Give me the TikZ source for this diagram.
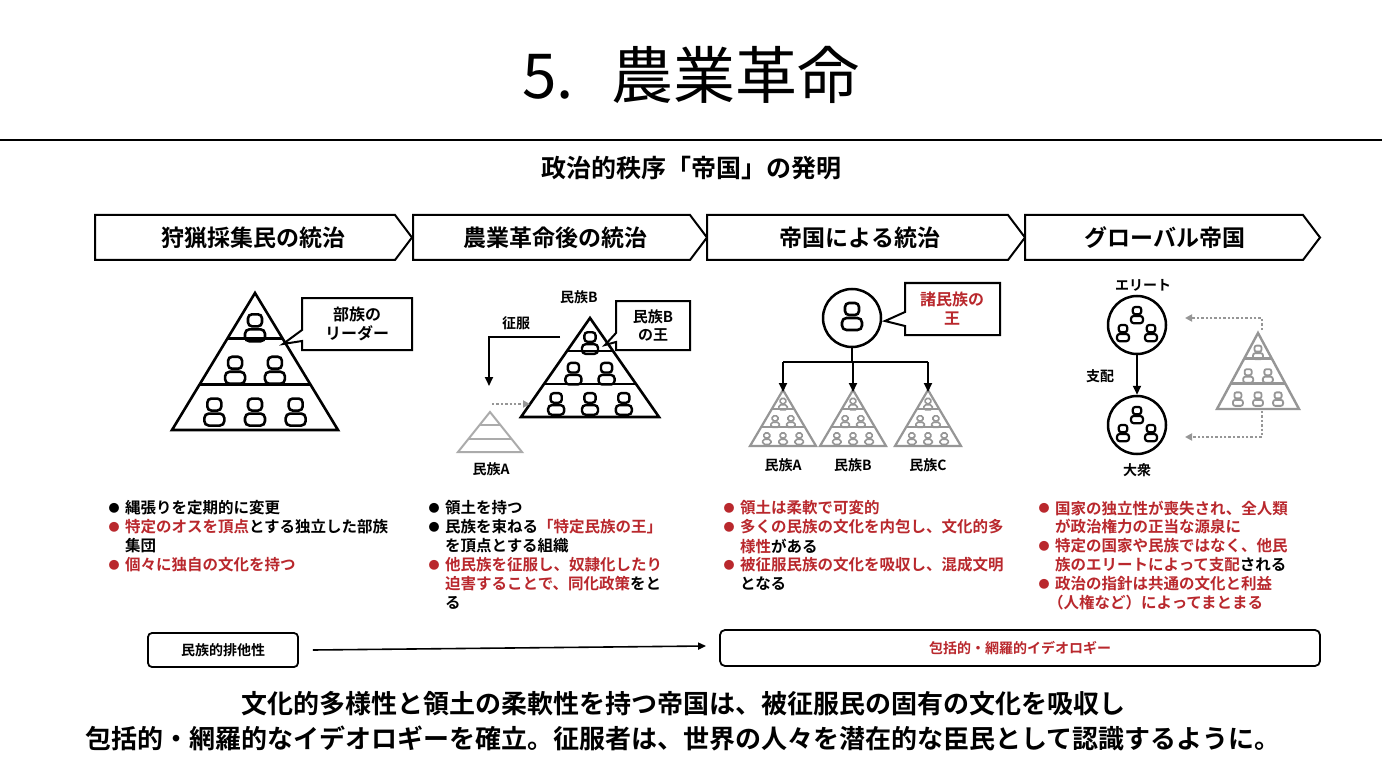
\documentclass[tikz,border=0pt]{standalone}
\usepackage{fontspec}
\setmainfont{Noto Sans CJK JP}[BoldFont=* Bold]
\usetikzlibrary{arrows.meta}
\definecolor{rd}{RGB}{185,40,45}
\definecolor{gy}{RGB}{150,150,150}
\newcommand\pers[5]{\begin{scope}[shift={(#1,#2)},scale=#3]
\draw[#4,line width=#5,rounded corners=4*#3] (-7,-15) rectangle (7,-3);
\draw[#4,line width=#5,rounded corners=4.5*#3] (-10,12) -- (-10,0) -- (10,0) -- (10,12) -- cycle;
\end{scope}}
\newcommand\pyrbase[6]{\begin{scope}[shift={(#1,#2)}]
\draw[#5,line width=#6,line join=miter] (0,0) -- (#4,#3) -- (-#4,#3) -- cycle;
\draw[#5,line width=#6] ({-#4/3},{#3/3}) -- ({#4/3},{#3/3});
\draw[#5,line width=#6] ({-2*#4/3},{2*#3/3}) -- ({2*#4/3},{2*#3/3});
\end{scope}}
\newcommand\pyr[8]{\pyrbase{#1}{#2}{#3}{#4}{#5}{#6}
\begin{scope}[shift={(#1,#2)}]
\pers{0}{0.265*#3}{#7}{#5}{#8}
\pers{-0.24*#4}{0.575*#3}{#7}{#5}{#8}\pers{0.24*#4}{0.575*#3}{#7}{#5}{#8}
\pers{-0.49*#4}{0.88*#3}{#7}{#5}{#8}\pers{0}{0.88*#3}{#7}{#5}{#8}\pers{0.49*#4}{0.88*#3}{#7}{#5}{#8}
\end{scope}}
\tikzset{
 banner/.style={line width=2pt,fill=white},
 btxt/.style={font=\fontsize{23}{23}\selectfont\bfseries},
 lbl/.style={font=\fontsize{14}{14}\selectfont\bfseries},
 bl/.style={anchor=west,font=\fontsize{15.5}{16}\selectfont\bfseries,inner sep=0pt},
 bul/.style={font=\fontsize{11}{11}\selectfont,inner sep=0pt},
 callout/.style={line width=2pt,fill=white,line join=miter},
 arr/.style={line width=2pt,-{Triangle[length=9pt,width=8pt]}},
 darr/.style={gy,line width=2.4pt,dotted,-{Triangle[length=7pt,width=7pt]}},
}
\begin{document}
\begin{tikzpicture}[x=1pt,y=-1pt]
\useasboundingbox (0,0) rectangle (1382,778);
\fill[white] (0,0) rectangle (1382,778);
\node (title) at (691,75) {\fontsize{62}{62}\selectfont 5.\hspace{0.6em}農業革命};
\draw[line width=2.5pt] (0,140) -- (1382,140);
\node[font=\fontsize{25}{25}\selectfont\bfseries] (sub) at (691,168) {政治的秩序「帝国」の発明};
% banners
\draw[banner] (95,215) -- (395,215) -- (412,237.5) -- (395,260) -- (95,260) -- cycle;
\draw[banner] (413,215) -- (690,215) -- (707,237.5) -- (690,260) -- (413,260) -- cycle;
\draw[banner] (707,215) -- (1008,215) -- (1025,237.5) -- (1008,260) -- (707,260) -- cycle;
\draw[banner] (1025,215) -- (1303,215) -- (1320,237.5) -- (1303,260) -- (1025,260) -- cycle;
\node[btxt] (b1) at (253,237.5) {狩猟採集民の統治};
\node[btxt] (b2) at (555,237.5) {農業革命後の統治};
\node[btxt] (b3) at (860,237.5) {帝国による統治};
\node[btxt] (b4) at (1165,237.5) {グローバル帝国};
% section 1
\pyr{255}{293}{137}{83}{black}{2.6pt}{1}{2.6pt}
\draw[callout] (302,298) -- (412,298) -- (412,350) -- (302,350) -- (302,341) -- (283,344) -- (302,330) -- cycle;
\node[font=\fontsize{16}{19}\selectfont\bfseries,align=center] (c1) at (357,324) {部族の\\リーダー};
% section 2
\pyr{590}{318}{99}{69}{black}{2.6pt}{0.8}{2.4pt}
\draw[callout] (616,301) -- (690,301) -- (690,350) -- (616,350) -- (616,342) -- (605,345) -- (616,333) -- cycle;
\node[font=\fontsize{15}{18}\selectfont\bfseries,align=center] (c2) at (653,325) {民族B\\の王};
\node[lbl] (nb) at (579,297) {民族B};
\node[lbl] (sf) at (516,323) {征服};
\pyrbase{490}{412}{40}{32}{gy!80}{2pt}
\node[lbl] (na) at (491,469) {民族A};
\coordinate (s2) at (560,337);
\draw[arr] (s2) -- (489,337) -- (489,386);
\draw[darr] (492,404) -- (530,404);
% section 3
\node[circle,draw,line width=2.5pt,minimum size=58pt] (k) at (852,318) {};
\pers{852}{318}{1}{black}{2.6pt}
\draw[callout] (905,283) -- (1000,283) -- (1000,335) -- (905,335) -- (905,326) -- (885,321) -- (905,312) -- cycle;
\node[font=\fontsize{16}{19}\selectfont\bfseries,align=center,text=rd] (c3) at (952,309) {諸民族の\\王};
\coordinate (hub) at (852,362);
\draw[line width=2.2pt] (k.south) -- (hub);
\draw[line width=2.2pt] (783,362) -- (928,362);
\foreach \x/\l in {783/A,853/B,928/C}{
 \pyr{\x}{390}{56}{33}{gy}{2.2pt}{0.42}{1.6pt}
 \draw[arr] (\x,362) -- (\x,392);
 \node[lbl] (n\l) at (\x,465) {民族\l};
}
% section 4
\node[lbl] (el) at (1143,285) {エリート};
\node[circle,draw,line width=2.5pt,minimum size=58pt] (e1) at (1137,325) {};
\node[circle,draw,line width=2.5pt,minimum size=58pt] (e2) at (1137,425) {};
\foreach \c in {325,425}{
 \pers{1137}{\c-9}{0.6}{black}{2.2pt}
 \pers{1123}{\c+9}{0.6}{black}{2.2pt}
 \pers{1151}{\c+9}{0.6}{black}{2.2pt}
}
\draw[arr] (e1) -- (e2);
\node[lbl] (sh) at (1100,376) {支配};
\node[lbl] (tl) at (1137,470) {大衆};
\pyr{1258}{333}{76}{41}{gy}{2.4pt}{0.5}{1.8pt}
\draw[darr] (1262,330) -- (1262,318) -- (1185,318);
\draw[darr] (1262,411) -- (1262,437) -- (1185,437);
% bullets
\def\bu#1#2#3{\node[bul,text=#3] at (#1,#2) {●};}
\bu{114}{508}{black}\node[bl] (t11) at (125,508) {縄張りを定期的に変更};
\bu{114}{527}{rd}\node[bl] (t12) at (125,527) {\textcolor{rd}{特定のオスを頂点}とする独立した部族};
\node[bl] (t13) at (125,546) {集団};
\bu{114}{565}{rd}\node[bl,text=rd] (t14) at (125,565) {個々に独自の文化を持つ};
\bu{434}{508}{black}\node[bl] (t21) at (445,508) {領土を持つ};
\bu{434}{527}{black}\node[bl] (t22) at (445,527) {民族を束ねる\textcolor{rd}{「特定民族の王」}};
\node[bl] (t23) at (445,546) {を頂点とする組織};
\bu{434}{565}{rd}\node[bl,text=rd] (t24) at (445,565) {他民族を征服し、奴隷化したり};
\node[bl] (t25) at (445,584) {\textcolor{rd}{迫害することで、同化政策}をと};
\node[bl] (t26) at (445,603) {る};
\bu{729}{508}{rd}\node[bl,text=rd] (t31) at (740,508) {領土は柔軟で可変的};
\bu{729}{527}{rd}\node[bl,text=rd] (t32) at (740,527) {多くの民族の文化を内包し、文化的多};
\node[bl] (t33) at (740,546) {\textcolor{rd}{様性}がある};
\bu{729}{565}{rd}\node[bl,text=rd] (t34) at (740,565) {被征服民族の文化を吸収し、混成文明};
\node[bl] (t35) at (740,584) {となる};
\bu{1044}{508}{rd}\node[bl,text=rd] (t41) at (1055,508) {国家の独立性が喪失され、全人類};
\node[bl,text=rd] (t42) at (1055,527) {が政治権力の正当な源泉に};
\bu{1044}{546}{rd}\node[bl,text=rd] (t43) at (1055,546) {特定の国家や民族ではなく、他民};
\node[bl] (t44) at (1055,565) {\textcolor{rd}{族のエリートによって支配}される};
\bu{1044}{584}{rd}\node[bl,text=rd] (t45) at (1055,584) {政治の指針は共通の文化と利益};
\node[bl,text=rd] (t46) at (1048,603) {（人権など）によってまとまる};
% bottom boxes
\node[draw,line width=1.8pt,rounded corners=4pt,minimum width=150pt,minimum height=34pt,font=\fontsize{14}{14}\selectfont\bfseries] (ex) at (223,650) {民族的排他性};
\node[draw,line width=1.8pt,rounded corners=5pt,minimum width=600pt,minimum height=36pt,font=\fontsize{14}{14}\selectfont\bfseries,text=rd] (inc) at (1020,648) {包括的・網羅的イデオロギー};
\draw[line width=1.6pt,-{Triangle[length=8pt,width=7pt]}] ([xshift=14pt]ex.east) -- ([xshift=-13pt,yshift=2pt]inc.west);
\node[font=\fontsize{26}{35}\selectfont\bfseries,align=center] (concl) at (683,721) {文化的多様性と領土の柔軟性を持つ帝国は、被征服民の固有の文化を吸収し\\包括的・網羅的なイデオロギーを確立。征服者は、世界の人々を潜在的な臣民として認識するように。};
\end{tikzpicture}
\end{document}
